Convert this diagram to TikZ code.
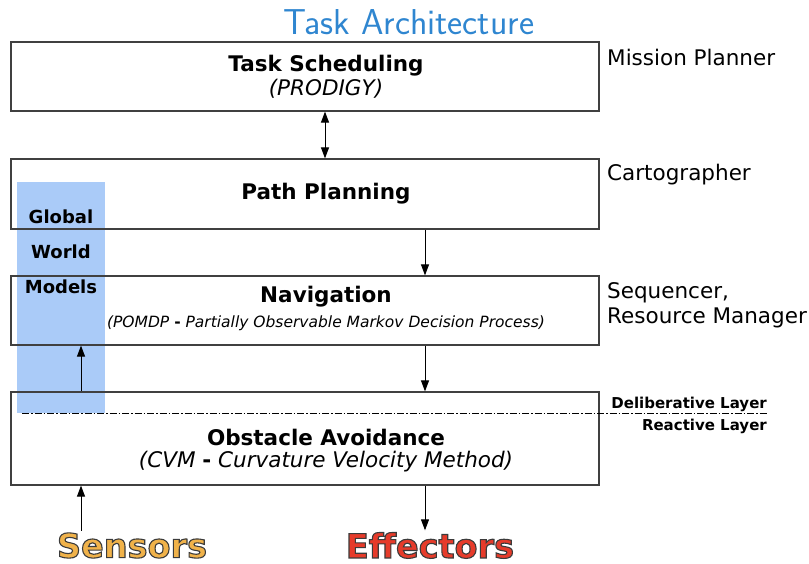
\documentclass[tikz,border=0pt]{standalone}
\usepackage{fontspec}
\setmainfont{DejaVu Sans}
\usetikzlibrary{arrows.meta,calc}
\definecolor{titleblue}{HTML}{2F86D0}
\definecolor{modelblue}{HTML}{AACBF8}
\definecolor{sensorc}{HTML}{F0B24A}
\definecolor{effectc}{HTML}{E63B2A}
% outlined text: fill and stroke the glyphs
\newcommand{\outlined}[1]{\special{pdf:literal direct 0.23 0.23 0.23 RG 1.1 w 2 Tr}#1\special{pdf:literal direct 0 Tr}}
\tikzset{
	layerbox/.style={draw=black!75, line width=1.2pt, minimum width=588pt, inner sep=0pt},
	arr/.style={-{Triangle[length=11pt,width=8pt]}, line width=1pt},
	dblarr/.style={{Triangle[length=11pt,width=8pt]}-{Triangle[length=11pt,width=8pt]}, line width=1pt},
	boxtitle/.style={font=\fontsize{21.5}{25}\selectfont\bfseries, inner sep=0pt},
	boxsub/.style={font=\fontsize{21.5}{25}\selectfont\itshape, inner sep=0pt},
	rolelabel/.style={font=\fontsize{21.5}{25}\selectfont, anchor=west, align=left, inner sep=0pt},
	layerlabel/.style={font=\fontsize{15}{18}\selectfont\bfseries, anchor=east, inner sep=0pt},
	modellabel/.style={font=\fontsize{18}{22}\selectfont\bfseries},
	bigword/.style={font=\fontsize{33.5}{36}\selectfont\bfseries, inner sep=0pt}
}
\begin{document}
\begin{tikzpicture}[x=1pt, y=-1pt]
			%%%%% START %%%%%
			\useasboundingbox (0, 0) rectangle (809, 564);
			
			\node[font=\sffamily\fontsize{36}{40}\selectfont, text=titleblue] (title) at (409, 22) {Task Architecture};
			
			% world models column, behind the boxes
			\fill[modelblue] (17, 182) rectangle (105, 413);
			\node[modellabel] (global) at (61, 217) {Global};
			\node[modellabel] (world) at (61, 252) {World};
			\node[modellabel] (models) at (61, 287) {Models};
			
			% layers
			\node[layerbox, minimum height=69pt] (sched) at (305, 76.5) {};
			\node[boxtitle] (schedT) at (326, 66) {Task Scheduling};
			\node[boxsub] (schedS) at (326, 89) {(PRODIGY)};
			
			\node[layerbox, minimum height=70pt] (plan) at (305, 194) {};
			\node[boxtitle] (planT) at (326, 194) {Path Planning};
			
			\node[layerbox, minimum height=69pt] (nav) at (305, 310.5) {};
			\node[boxtitle] (navT) at (326, 297) {Navigation};
			\node[font=\fontsize{15.5}{18}\selectfont\itshape, inner sep=0pt] (navS) at (326, 323) {(POMDP \textbf{\upshape -} Partially Observable Markov Decision Process)};
			
			\node[layerbox, minimum height=93pt] (avoid) at (305, 438.5) {};
			\node[boxtitle] (avoidT) at (326, 437) {Obstacle Avoidance};
			\node[boxsub] (avoidS) at (326, 462) {(CVM \textbf{\upshape -} Curvature Velocity Method)};
			
			% roles on the right
			\node[rolelabel] (mission) at (607, 57) {Mission Planner};
			\node[rolelabel] (carto) at (607, 175) {Cartographer};
			\node[rolelabel] (seq) at (607, 305.5) {Sequencer,\\Resource Manager};
			
			% deliberative / reactive split
			\coordinate (splitL) at (22, 413);
			\coordinate (splitR) at (768, 413);
			\draw[line width=0.8pt, dash pattern=on 7pt off 2pt on 1.5pt off 2pt] (splitL) -- (splitR);
			\node[layerlabel] (delib) at (767, 404) {Deliberative Layer};
			\node[layerlabel] (react) at (767, 426) {Reactive Layer};
			
			% sensors and effectors
			\node[bigword, text=sensorc] (sens) at (132, 545.5) {\outlined{Sensors}};
			\node[bigword, text=effectc] (effect) at (430, 545.5) {\outlined{Effectors}};
			
			% connectors
			\coordinate (colA) at (81, 0);
			\coordinate (colB) at (325, 0);
			\coordinate (colC) at (425, 0);
			\draw[dblarr] (sched.south -| colB) -- (plan.north -| colB);
			\draw[arr] (plan.south -| colC) -- (nav.north -| colC);
			\draw[arr] (nav.south -| colC) -- (avoid.north -| colC);
			\draw[arr] (avoid.north -| colA) -- (nav.south -| colA);
			\draw[arr] ($(sens.north -| colA)+(0, -2)$) -- (avoid.south -| colA);
			\draw[arr] (avoid.south -| colC) -- ($(effect.north -| colC)+(0, -2)$);
			
			%%%%% END %%%%%
\end{tikzpicture}
\end{document}
